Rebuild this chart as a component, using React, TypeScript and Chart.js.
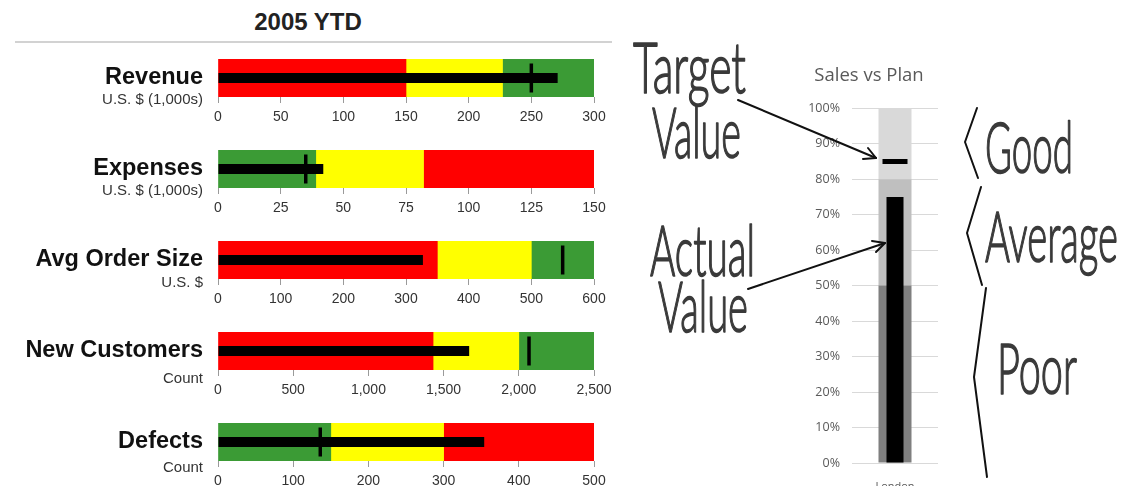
import React, { useEffect, useRef } from "react";
import { Chart, registerables } from "chart.js";

Chart.register(...registerables);

// ---------- DATA: left panel (bullet graphs, 2005 YTD) ----------
const dashboardTitle = "2005 YTD";
const bulletCategories = ["Revenue", "Expenses", "Avg Order Size", "New Customers", "Defects"];
const bulletUnits = ["U.S. $ (1,000s)", "U.S. $ (1,000s)", "U.S. $", "Count", "Count"];
const bulletAxisMax = [300, 150, 600, 2500, 500];
const bulletTickStep = [50, 25, 100, 500, 100];
const bulletRangeLow = [150, 39, 350, 1430, 150];
const bulletRangeMid = [227, 82, 500, 2000, 300];
const bulletRangeHigh = [300, 150, 600, 2500, 500];
const bulletHigherIsBetter = [true, false, true, true, false];
const bulletActual = [271, 42, 327, 1670, 354];
const bulletTarget = [250, 35, 550, 2068, 136];

// ---------- DATA: right panel (Sales vs Plan) ----------
const planTitle = "Sales vs Plan";
const planCategories = ["London"];
const planPoorUpTo = [50];
const planAverageUpTo = [80];
const planGoodUpTo = [100];
const planActual = [75];
const planTarget = [85];
const planAxisMax = 100;
const planTickStep = 10;

// ---------- annotation texts ----------
const noteTarget = ["Target", "Value"];
const noteActual = ["Actual", "Value"];
const noteBands = ["Good", "Average", "Poor"];

// ---------- styles ----------
const RED = "#ff0000";
const YELLOW = "#ffff00";
const GREEN = "#3b9b35";
const SANS = '"Liberation Sans", Arial, Helvetica, sans-serif';
const EXCEL = '"Open Sans", "Liberation Sans", sans-serif';
const HAND = 'Lato, "Open Sans", sans-serif';

const BAND_TOPS = [59, 150, 241, 332, 423];
const BAND_H = 38;
const SUB_OFFSET = [1, 1, 2, 7, 5];
const PAD_X = 30;

function Bullet({ idx }: { idx: number }) {
  const ref = useRef<HTMLCanvasElement>(null);
  useEffect(() => {
    if (!ref.current) return;
    const ends = [bulletRangeLow[idx], bulletRangeMid[idx], bulletRangeHigh[idx]];
    const colors = bulletHigherIsBetter[idx] ? [RED, YELLOW, GREEN] : [GREEN, YELLOW, RED];
    const cat = bulletCategories[idx];
    const datasets: any[] = ends.map((e, i) => ({
      type: "bar",
      data: [[i === 0 ? 0 : ends[i - 1], e]],
      backgroundColor: colors[i],
      barPercentage: 1,
      categoryPercentage: 1,
      grouped: false,
      borderWidth: 0,
      order: 3,
    }));
    datasets.push({
      type: "bar",
      data: [bulletActual[idx]],
      backgroundColor: "#000000",
      barPercentage: 10 / BAND_H,
      categoryPercentage: 1,
      grouped: false,
      borderWidth: 0,
      order: 2,
    });
    datasets.push({
      type: "scatter",
      data: [{ x: bulletTarget[idx], y: cat }],
      pointStyle: "line",
      rotation: 90,
      radius: 14.5,
      hoverRadius: 14.5,
      borderWidth: 3.5,
      borderColor: "#000000",
      backgroundColor: "#000000",
      order: 1,
    });
    const chart = new Chart(ref.current, {
      type: "bar",
      data: { labels: [cat], datasets },
      options: {
        indexAxis: "y",
        animation: false,
        responsive: false,
        maintainAspectRatio: false,
        events: [],
        layout: { autoPadding: false, padding: { left: PAD_X, right: PAD_X, top: 2, bottom: 0 } },
        plugins: { legend: { display: false }, tooltip: { enabled: false }, title: { display: false } },
        scales: {
          x: {
            type: "linear",
            position: "bottom",
            min: 0,
            max: bulletAxisMax[idx],
            ticks: {
              stepSize: bulletTickStep[idx],
              autoSkip: false,
              maxRotation: 0,
              padding: 6,
              color: "#333333",
              font: { family: SANS, size: 14 },
              callback: (v: any) => Number(v).toLocaleString("en-US"),
            },
            grid: { display: true, drawOnChartArea: false, drawTicks: true, tickLength: 6, color: "#9a9a9a", lineWidth: 1 },
            border: { display: false },
            afterFit: (s: any) => {
              s.height = 30;
            },
          },
          y: { type: "category", display: false },
        },
      } as any,
    });
    return () => chart.destroy();
  }, [idx]);
  const top = BAND_TOPS[idx];
  return (
    <>
      <canvas
        ref={ref}
        width={376 + 2 * PAD_X}
        height={70}
        style={{ position: "absolute", left: 218 - PAD_X, top: top - 2, width: 376 + 2 * PAD_X, height: 70, display: "block" }}
      />
      <div
        style={{
          position: "absolute",
          right: 1126 - 203,
          top: top + BAND_H / 2 - 1 - 0.49 * 23.5,
          fontFamily: SANS,
          fontWeight: "bold",
          fontSize: 23.5,
          lineHeight: "23.5px",
          color: "#111",
          whiteSpace: "nowrap",
          textAlign: "right",
        }}
      >
        {bulletCategories[idx]}
      </div>
      <div
        style={{
          position: "absolute",
          right: 1126 - 203,
          top: top + BAND_H + SUB_OFFSET[idx] - 0.49 * 15,
          fontFamily: SANS,
          fontSize: 15,
          lineHeight: "15px",
          color: "#333",
          whiteSpace: "nowrap",
          textAlign: "right",
        }}
      >
        {bulletUnits[idx]}
      </div>
    </>
  );
}

function SalesVsPlan() {
  const ref = useRef<HTMLCanvasElement>(null);
  useEffect(() => {
    if (!ref.current) return;
    const bandEnds = [planPoorUpTo, planAverageUpTo, planGoodUpTo];
    const bandColors = ["#7f7f7f", "#bfbfbf", "#d9d9d9"];
    const datasets: any[] = bandEnds.map((arr, i) => ({
      type: "bar",
      data: arr.map((e, j) => [i === 0 ? 0 : bandEnds[i - 1][j], e]),
      backgroundColor: bandColors[i],
      barPercentage: 33 / 86,
      categoryPercentage: 1,
      grouped: false,
      borderWidth: 0,
      order: 3,
    }));
    datasets.push({
      type: "bar",
      data: planActual,
      backgroundColor: "#000000",
      barPercentage: 17 / 86,
      categoryPercentage: 1,
      grouped: false,
      borderWidth: 0,
      order: 2,
    });
    datasets.push({
      type: "scatter",
      data: planTarget.map((t, j) => ({ x: planCategories[j], y: t })),
      pointStyle: "line",
      rotation: 0,
      radius: 12.5,
      hoverRadius: 12.5,
      borderWidth: 5,
      borderColor: "#000000",
      backgroundColor: "#000000",
      order: 1,
    });
    const chart = new Chart(ref.current, {
      type: "bar",
      data: { labels: planCategories, datasets },
      options: {
        animation: false,
        responsive: false,
        maintainAspectRatio: false,
        events: [],
        layout: { autoPadding: false, padding: { left: 0, right: 16, top: 0, bottom: 0 } },
        plugins: {
          legend: { display: false },
          tooltip: { enabled: false },
          title: {
            display: true,
            text: planTitle,
            color: "#595959",
            font: { family: EXCEL, size: 18.5, weight: "normal", lineHeight: 1.2 },
            padding: { top: 9, bottom: 21 },
          },
        },
        scales: {
          y: {
            type: "linear",
            min: 0,
            max: planAxisMax,
            ticks: {
              stepSize: planTickStep,
              padding: 12,
              color: "#595959",
              font: { family: EXCEL, size: 12.5 },
              callback: (v: any) => v + "%",
            },
            grid: { color: "#d9d9d9", drawTicks: false, lineWidth: 1 },
            border: { display: false },
            afterFit: (s: any) => {
              s.width = 52;
            },
          },
          x: {
            type: "category",
            grid: { display: false },
            border: { display: false },
            ticks: { padding: 9, color: "#595959", font: { family: EXCEL, size: 11 } },
            afterFit: (s: any) => {
              s.height = 30;
            },
          },
        },
      } as any,
    });
    return () => chart.destroy();
  }, []);
  return (
    <canvas
      ref={ref}
      width={154}
      height={437}
      style={{ position: "absolute", left: 800, top: 56, width: 154, height: 437, display: "block" }}
    />
  );
}

function Annotations() {
  const ink = "#3a3a3a";
  const line = "#111111";
  return (
    <svg
      width={1126}
      height={486}
      style={{ position: "absolute", left: 0, top: 0, pointerEvents: "none" }}
    >
      <g
        fill={ink}
        stroke={ink}
        strokeWidth={1.6}
        strokeLinejoin="round"
        fontFamily={HAND}
        fontWeight={300}
        fontSize={70}
      >
        <text x={633} y={93} textLength={113} lengthAdjust="spacingAndGlyphs">{noteTarget[0]}</text>
        <text x={652} y={158} textLength={89} lengthAdjust="spacingAndGlyphs">{noteTarget[1]}</text>
        <text x={650} y={276} textLength={105} lengthAdjust="spacingAndGlyphs">{noteActual[0]}</text>
        <text x={658} y={332} textLength={90} lengthAdjust="spacingAndGlyphs">{noteActual[1]}</text>
        <text x={985} y={173} textLength={88} lengthAdjust="spacingAndGlyphs">{noteBands[0]}</text>
        <text x={985} y={262} textLength={133} lengthAdjust="spacingAndGlyphs">{noteBands[1]}</text>
        <text x={997} y={394} textLength={80} lengthAdjust="spacingAndGlyphs">{noteBands[2]}</text>
      </g>
      <g stroke={line} strokeWidth={2} fill="none" strokeLinecap="round" strokeLinejoin="round">
        <line x1={738} y1={100} x2={876} y2={158} />
        <polyline points="863,159 876,158 868,148" />
        <line x1={748} y1={289} x2={885} y2={243} />
        <polyline points="876,252 885,243 872,241" />
        <polyline points="977,108 965,142 978,178" />
        <polyline points="981,187 967,233 982,285" />
        <polyline points="986,288 974,377 987,477" />
      </g>
    </svg>
  );
}

export default function App() {
  return (
    <div
      style={{
        position: "absolute",
        left: 0,
        top: 0,
        width: 1126,
        height: 486,
        overflow: "hidden",
        background: "#ffffff",
      }}
    >
      <div
        style={{
          position: "absolute",
          left: 0,
          width: 616,
          top: 22 - 0.49 * 24,
          textAlign: "center",
          fontFamily: SANS,
          fontWeight: "bold",
          fontSize: 24,
          lineHeight: "24px",
          color: "#222",
        }}
      >
        {dashboardTitle}
      </div>
      <div
        style={{
          position: "absolute",
          left: 15,
          top: 41,
          width: 597,
          height: 0,
          borderTop: "2px solid #d2d2d2",
        }}
      />
      {bulletCategories.map((_, i) => (
        <Bullet key={i} idx={i} />
      ))}
      <SalesVsPlan />
      <Annotations />
    </div>
  );
}
